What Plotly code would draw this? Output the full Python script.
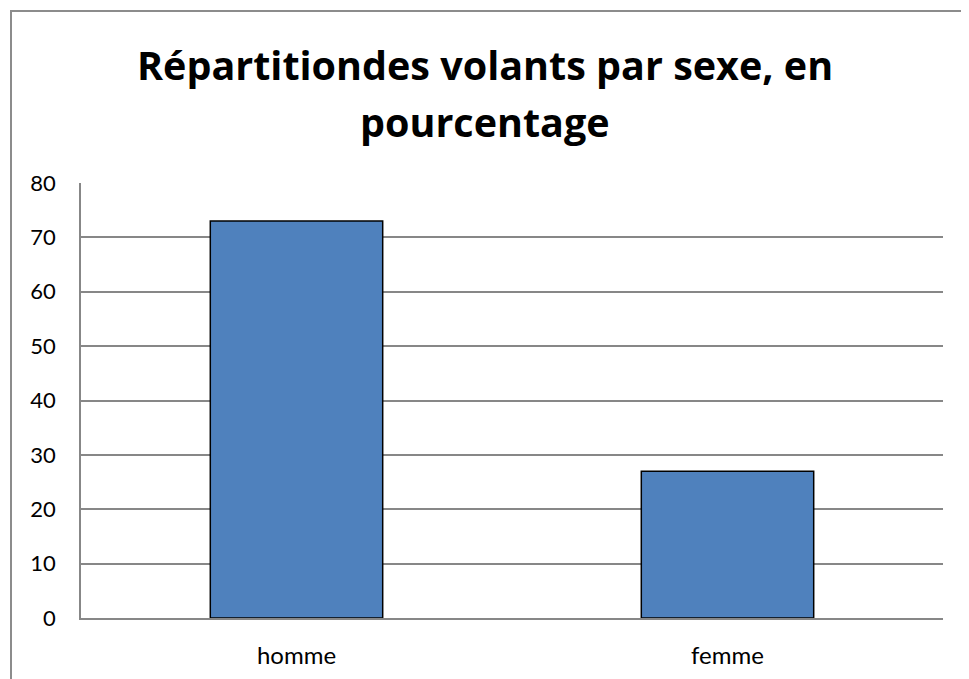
import plotly.graph_objects as go

categories = ["homme", "femme"]
values = [73, 27]
y_ticks = [0, 10, 20, 30, 40, 50, 60, 70, 80]
title_lines = ["Répartitiondes volants par sexe, en", "pourcentage"]

W, H = 961, 671          # page body adds an 8px offset
ML, MR, MT, MB = 73, 26, 175, 61
PW, PH = W - ML - MR, H - MT - MB

fig = go.Figure(go.Bar(
    x=categories, y=values,
    marker=dict(color="#4F81BD", line=dict(color="#000000", width=1.5)),
    width=0.4,
))

title_font = dict(family="Open Sans, Lato, sans-serif", size=39.5, color="black", weight="bold")
annotations = [
    dict(text=title_lines[0], xref="paper", yref="paper", x=(485 - 8 - ML) / PW,
         y=1 + (MT - (65 - 8)) / PH, xanchor="center", yanchor="middle",
         showarrow=False, font=title_font),
    dict(text=title_lines[1], xref="paper", yref="paper", x=(485 - 8 - ML) / PW,
         y=1 + (MT - (122 - 8)) / PH, xanchor="center", yanchor="middle",
         showarrow=False, font=title_font),
]

fig.update_layout(
    width=W, height=H,
    paper_bgcolor="white", plot_bgcolor="white",
    margin=dict(l=ML, r=MR, t=MT, b=MB),
    font=dict(family="Lato, Open Sans, sans-serif", size=22, color="black"),
    showlegend=False,
    annotations=annotations,
    shapes=[dict(type="rect", xref="paper", yref="paper",
                 x0=(3 - ML) / PW, x1=1.1, y0=-0.2, y1=1 + (MT - 3) / PH,
                 line=dict(color="#8c8c8c", width=2), layer="below")],
)
fig.update_yaxes(range=[0, 80], tickvals=y_ticks, showgrid=True, gridcolor="#878787", gridwidth=1.5,
                 showline=True, linecolor="#878787", linewidth=1.5, zeroline=False, automargin=False,
                 ticks="", ticklabelstandoff=19, tickfont=dict(size=22))
fig.update_xaxes(showline=True, linecolor="#878787", linewidth=1.5, ticks="", tickfont=dict(size=24),
                 ticklabelstandoff=15, automargin=False)

fig.write_html("out.html")
